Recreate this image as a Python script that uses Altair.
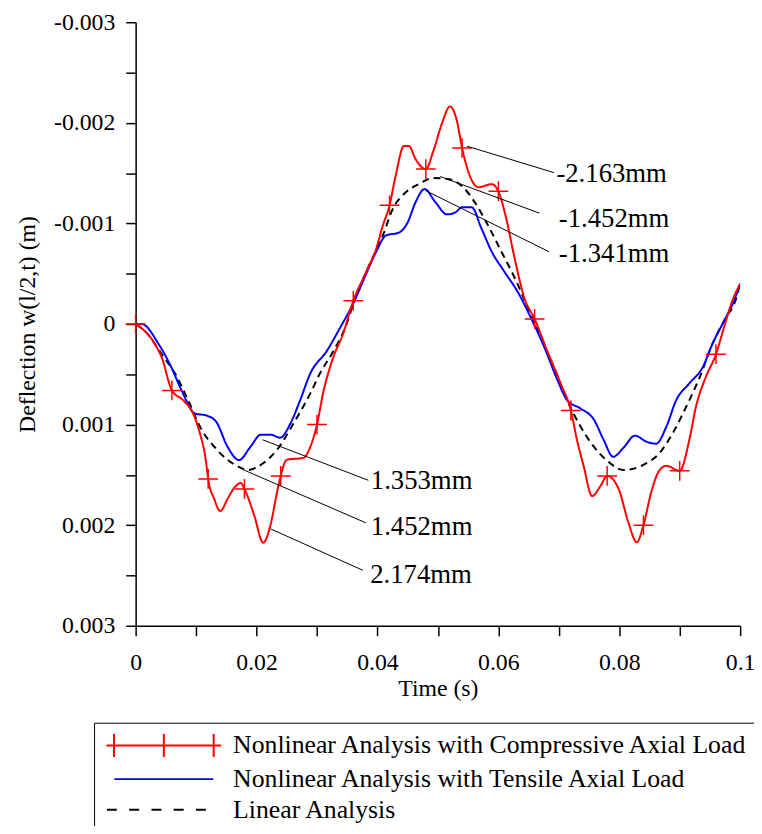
import altair as alt
import pandas as pd

COMP = "Nonlinear Analysis with Compressive Axial Load"
TENS = "Nonlinear Analysis with Tensile Axial Load"
LIN = "Linear Analysis"
series_names = [COMP, TENS, LIN]
series_colors = ["#ff0000", "#0000ff", "#000000"]
series_dash = [[1, 0], [1, 0], [7, 5]]

# Compressive axial load (red)
comp_t = [0, 0.0032, 0.0043, 0.006, 0.0079, 0.0095, 0.0106, 0.0116, 0.012, 0.013, 0.014,
          0.0152, 0.0163, 0.0174, 0.018, 0.0196, 0.0211, 0.0223, 0.0234, 0.024, 0.025,
          0.0278, 0.0289, 0.030, 0.031, 0.0327, 0.0343, 0.036, 0.038, 0.0398, 0.0409,
          0.042, 0.043, 0.0444, 0.0452, 0.0463, 0.048, 0.0493, 0.0507, 0.052, 0.0531,
          0.054, 0.0553, 0.0567, 0.0589, 0.060, 0.0613, 0.0627, 0.0643, 0.066, 0.0681,
          0.0703, 0.072, 0.073, 0.0741, 0.0755, 0.0769, 0.078, 0.0799, 0.0815, 0.0829,
          0.084, 0.0853, 0.0867, 0.0878, 0.090, 0.0916, 0.0927, 0.0943, 0.096, 0.0973,
          0.0987, 0.1]
comp_v = [0, 0.0002, 0.00033, 0.00066, 0.00076, 0.00089, 0.00108, 0.00135, 0.00154, 0.00174, 0.00186,
          0.00174, 0.00163, 0.00158, 0.00164, 0.0019, 0.002174, 0.002, 0.00167, 0.00151, 0.00135,
          0.00133, 0.00122, 0.001, 0.00069, 0.00033, 0.0001, -0.00023, -0.0005, -0.00075, -0.00098,
          -0.00118, -0.00147, -0.00177, -0.00177, -0.00164, -0.00154, -0.00173, -0.002, -0.002163, -0.00203,
          -0.00175, -0.00147, -0.00136, -0.00139, -0.00132, -0.00105, -0.00065, -0.00026, -0.00005, 0.00027,
          0.00059, 0.00086, 0.00115, 0.00141, 0.00171, 0.00161, 0.00151, 0.00164, 0.00197, 0.00217,
          0.002, 0.00167, 0.00145, 0.00141, 0.00146, 0.00115, 0.00082, 0.00053, 0.0003, 0.00004,
          -0.00023, -0.0004]

# Tensile axial load (blue)
tens_t = [0, 0.001, 0.0038, 0.0059, 0.0076, 0.0098, 0.0117, 0.0133, 0.0152, 0.0171, 0.019,
          0.0207, 0.0223, 0.0239, 0.0256, 0.0272, 0.0289, 0.0316, 0.0338, 0.0362, 0.038,
          0.0398, 0.0414, 0.0436, 0.045, 0.0463, 0.0478, 0.0496, 0.0515, 0.0529, 0.054,
          0.0556, 0.0572, 0.0589, 0.061, 0.0632, 0.0654, 0.0676, 0.0698, 0.0714, 0.0736,
          0.0758, 0.0774, 0.079, 0.0807, 0.0826, 0.0845, 0.0861, 0.0878, 0.0894, 0.0916,
          0.0938, 0.0954, 0.0976, 0.099, 0.1]
tens_v = [0, 0, 0.0002, 0.00043, 0.00066, 0.00089, 0.00091, 0.00097, 0.00122, 0.001353, 0.00122,
          0.0011, 0.0011, 0.00113, 0.00099, 0.00076, 0.00049, 0.00027, 0.00004, -0.00023, -0.00048,
          -0.00072, -0.00088, -0.00091, -0.00101, -0.00121, -0.001341, -0.00121, -0.00109, -0.00111, -0.00116,
          -0.00116, -0.00095, -0.00072, -0.00052, -0.00032, -0.00006, 0.00023, 0.00056, 0.00076, 0.00084,
          0.00095, 0.00115, 0.00132, 0.00123, 0.00111, 0.00117, 0.00119, 0.00102, 0.00076, 0.00059,
          0.00043, 0.0002, -0.00006, -0.00023, -0.0004]

# Linear analysis (black dashed)
lin_t = [0, 0.002, 0.0043, 0.0065, 0.0087, 0.0109, 0.013, 0.0152, 0.0174, 0.0185, 0.0212,
         0.0234, 0.0261, 0.0289, 0.0305, 0.0327, 0.0349, 0.036, 0.038, 0.0409, 0.0425,
         0.0447, 0.0468, 0.0493, 0.0518, 0.054, 0.0561, 0.0583, 0.0605, 0.0627, 0.0649,
         0.067, 0.0692, 0.0714, 0.0736, 0.0758, 0.078, 0.0807, 0.084, 0.0867, 0.0889,
         0.0911, 0.0933, 0.0954, 0.0976, 0.0992, 0.1]
lin_v = [0, 0.0001, 0.0003, 0.00049, 0.00076, 0.00105, 0.00122, 0.00135, 0.00143, 0.001452, 0.00138,
         0.00125, 0.00099, 0.00069, 0.00049, 0.00027, 0.0, -0.0002, -0.0005, -0.00088, -0.00114,
         -0.00131, -0.00139, -0.001452, -0.00144, -0.00137, -0.00121, -0.00098, -0.00072, -0.00046, -0.00016,
         0.00013, 0.00043, 0.00076, 0.00102, 0.00122, 0.00136, 0.001452, 0.0014, 0.00128, 0.00108,
         0.00082, 0.00053, 0.0002, -0.00006, -0.00023, -0.0004]

# Times at which the compressive curve carries "+" markers
marker_t = [0, 0.006, 0.012, 0.018, 0.024, 0.030, 0.036, 0.042, 0.048, 0.054,
            0.060, 0.066, 0.072, 0.078, 0.084, 0.090, 0.096]

# Annotations: leader line from (t1, v1) to (t2, v2), label at (tt, tv)
ann_text = ["-2.163mm", "-1.452mm", "-1.341mm", "1.353mm", "1.452mm", "2.174mm"]
ann_t1 = [0.0548, 0.0504, 0.0480, 0.0210, 0.0177, 0.0223]
ann_v1 = [-0.001768, -0.001466, -0.001325, 0.001151, 0.001446, 0.002036]
ann_t2 = [0.0692, 0.0668, 0.0684, 0.0385, 0.0381, 0.0376]
ann_v2 = [-0.001505, -0.001102, -0.000718, 0.001554, 0.001977, 0.002449]
ann_tt = [0.0696, 0.0700, 0.0700, 0.0389, 0.0389, 0.0388]
ann_tv = [-0.001488, -0.001043, -0.000698, 0.001564, 0.002016, 0.002498]

x_ticks = [round(i * 0.01, 2) for i in range(11)]
y_ticks = [round(-0.003 + i * 0.0005, 4) for i in range(13)]

# legend symbol paths (scaled by 12 px per unit)
leg_paths = [
    "M-4.83,0L4.83,0M-4.2,-0.97L-4.2,0.97M0,-0.97L0,0.97M4.2,-0.97L4.2,0.97",
    "M-4.17,0L4.17,0",
    "M-4.79,0L-3.96,0M-2.92,0L-2.08,0M-1.04,0L-0.21,0M0.83,0L1.67,0M2.71,0L3.54,0",
]

FONT = "Liberation Serif"

comp_lookup = dict(zip(comp_t, comp_v))
mk_df = pd.DataFrame({"t": marker_t, "v": [comp_lookup[t] for t in marker_t]})

ann_df = pd.DataFrame({"t1": ann_t1, "v1": ann_v1, "t2": ann_t2, "v2": ann_v2,
                       "tt": ann_tt, "tv": ann_tv, "label": ann_text})

leg_df = pd.DataFrame({"t": [1.0, 1.0, 1.0], "v": [0.0, 0.0, 0.0], "series": series_names})

x_scale = alt.Scale(domain=[0, 0.1], nice=False, zero=False)
y_scale = alt.Scale(domain=[-0.003, 0.003], reverse=True, nice=False, zero=False)

x_axis = alt.Axis(
    values=x_ticks,
    labelExpr="round(datum.value*100) % 2 == 1 ? '' : (round(datum.value*100) == 0 ? '0' : (round(datum.value*100) == 10 ? '0.1' : '0.0' + round(datum.value*100)))",
    title="Time (s)", grid=False, tickSize=10, labelPadding=15, titlePadding=2,
    labelOverlap=False, labelFlush=False,
)
y_axis = alt.Axis(
    values=y_ticks,
    labelExpr="abs(round(datum.value*2000)) % 2 == 1 ? '' : (round(datum.value*1000) == 0 ? '0' : (datum.value < 0 ? '-' : '') + '0.00' + abs(round(datum.value*1000)))",
    title="Deflection w(l/2,t) (m)", grid=False, tickSize=10, labelPadding=11, titlePadding=14,
    labelOverlap=False, labelFlush=False,
)

line_layers = []
for i, (ts, vs) in enumerate([(comp_t, comp_v), (tens_t, tens_v), (lin_t, lin_v)]):
    d = pd.DataFrame({"t": ts, "v": vs})
    enc_x = alt.X("t:Q", scale=x_scale, axis=x_axis) if i == 0 else alt.X("t:Q", scale=x_scale)
    enc_y = alt.Y("v:Q", scale=y_scale, axis=y_axis) if i == 0 else alt.Y("v:Q", scale=y_scale)
    line_layers.append(
        alt.Chart(d).mark_line(
            strokeWidth=2, clip=True, interpolate="monotone",
            color=series_colors[i], strokeDash=series_dash[i],
        ).encode(x=enc_x, y=enc_y)
    )
# draw order: linear, tensile, compressive (red on top)
line_layers = [line_layers[2], line_layers[1], line_layers[0]]

markers = alt.Chart(mk_df).mark_point(
    shape="M-1,0L1,0M0,-1L0,1", size=400, filled=False, strokeWidth=1.5,
    color="#ff0000", opacity=1,
).encode(x=alt.X("t:Q", scale=x_scale), y=alt.Y("v:Q", scale=y_scale))

leg = alt.Legend(
    title=None, orient="none", legendX=-42, legendY=708, padding=10,
    strokeColor="black", fillColor="white",
    symbolSize=576, symbolStrokeWidth=2, symbolOffset=47.5,
    labelFont=FONT, labelFontSize=26, labelColor="black", labelLimit=2000,
    labelOffset=57, rowPadding=5,
)

legend_layer = alt.Chart(leg_df).mark_point(filled=False, clip=True, strokeWidth=2, opacity=1).encode(
    x=alt.X("t:Q", scale=x_scale),
    y=alt.Y("v:Q", scale=y_scale),
    color=alt.Color("series:N", scale=alt.Scale(domain=series_names, range=series_colors), legend=leg),
    shape=alt.Shape("series:N", scale=alt.Scale(domain=series_names, range=leg_paths), legend=leg),
)

leaders = alt.Chart(ann_df).mark_rule(color="black", strokeWidth=1).encode(
    x=alt.X("t1:Q", scale=x_scale), y=alt.Y("v1:Q", scale=y_scale),
    x2="t2:Q", y2="v2:Q",
)

labels = alt.Chart(ann_df).mark_text(
    align="left", baseline="middle", font=FONT, fontSize=27, color="black",
).encode(x=alt.X("tt:Q", scale=x_scale), y=alt.Y("tv:Q", scale=y_scale), text="label:N")

chart = alt.layer(*line_layers, markers, leaders, labels, legend_layer).properties(
    width=611, height=610,
    autosize=alt.AutoSizeParams(type="none"),
    padding={"left": 129, "top": 10, "right": 14, "bottom": 198},
).configure_view(stroke=None).configure_axis(
    domainColor="black", domainWidth=1.5, tickColor="black", tickWidth=1.5,
    labelFont=FONT, labelFontSize=24, labelColor="black",
    titleFont=FONT, titleFontSize=24, titleFontWeight="normal", titleColor="black",
)

chart.save("out.html", embed_options={"renderer": "svg", "actions": False})
